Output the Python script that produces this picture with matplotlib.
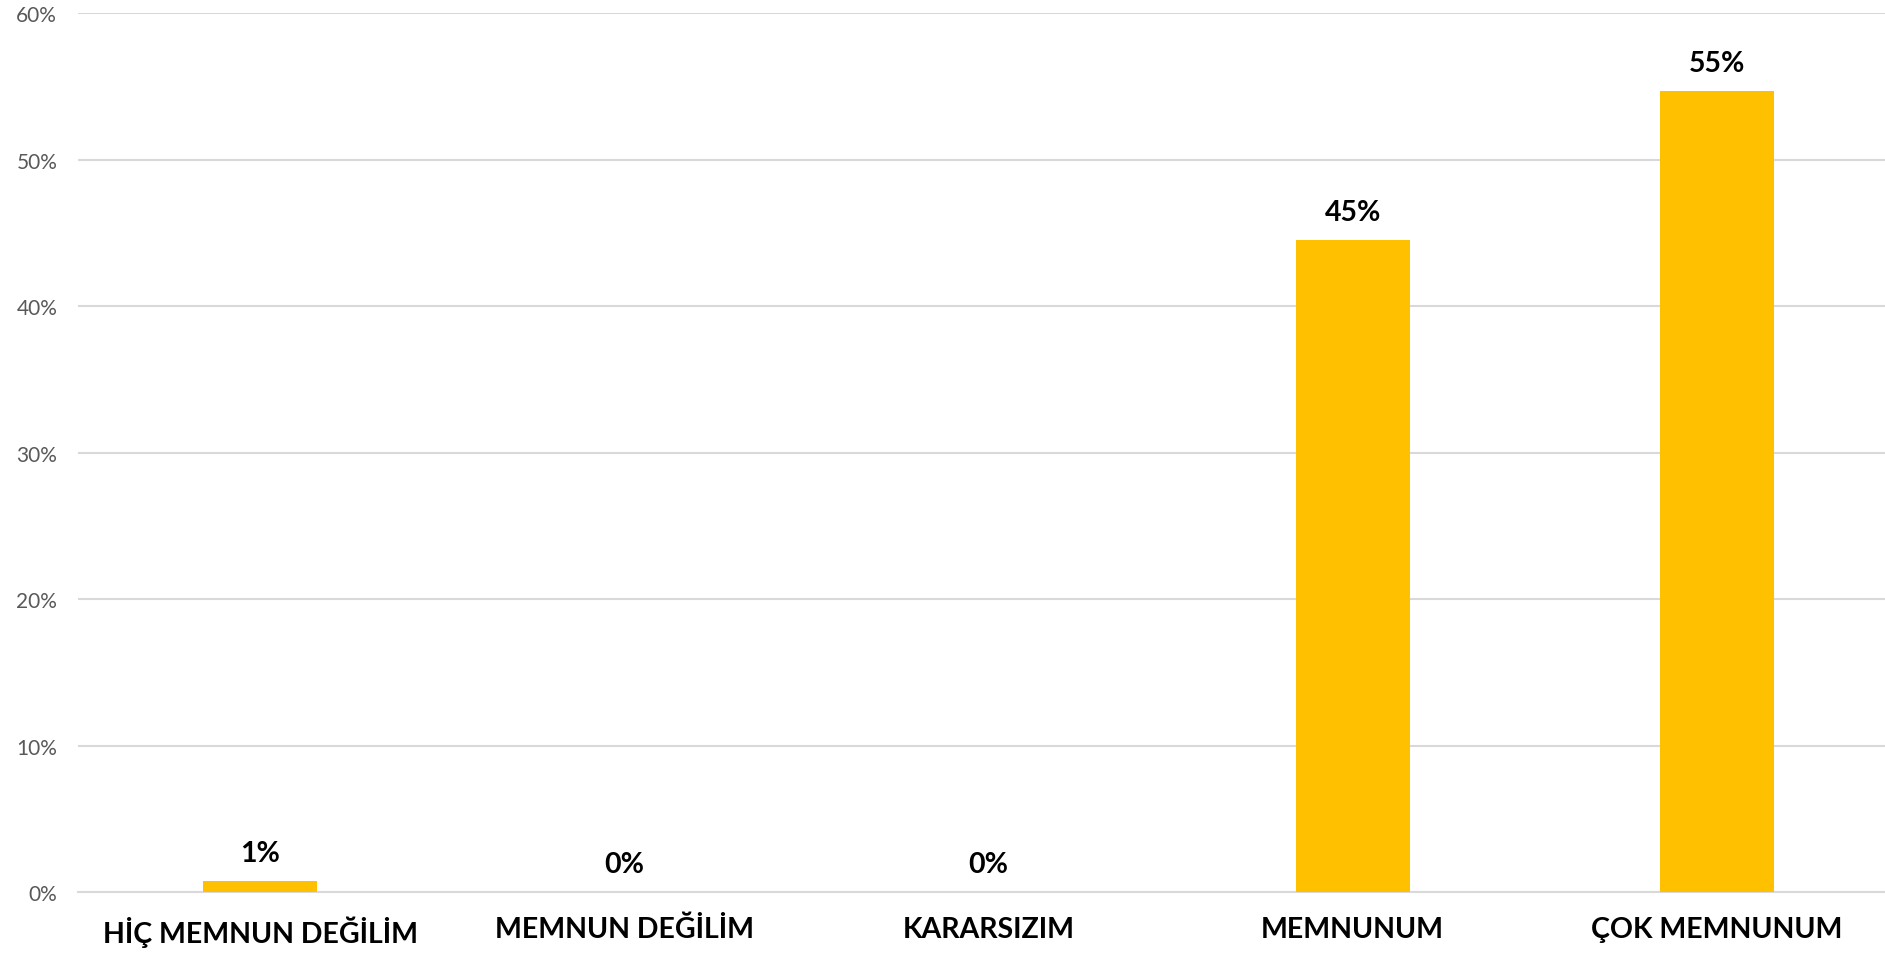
import matplotlib.pyplot as plt
from matplotlib.ticker import PercentFormatter

# Data
categories = ["HİÇ MEMNUN DEĞİLİM", "MEMNUN DEĞİLİM", "KARARSIZIM", "MEMNUNUM", "ÇOK MEMNUNUM"]
values = [0.0075, 0.0, 0.0, 0.445, 0.547]
labels = ["1%", "0%", "0%", "45%", "55%"]
yticks = [0, 0.1, 0.2, 0.3, 0.4, 0.5, 0.6]

plt.rcParams["font.family"] = ["Lato", "DejaVu Sans"]

fig = plt.figure(figsize=(18.85, 9.54), dpi=100)
ax = fig.add_axes([0.0414, 0.064, 0.966, 0.921])

x = range(len(categories))
ax.bar(x, values, width=0.313, color="#FFC000", zorder=3)

for xi, v, lab in zip(x, values, labels):
    ax.annotate(lab, (xi, v), xytext=(0, 11), textcoords="offset points",
                ha="center", va="bottom", fontsize=20.5, fontweight="bold", color="black")

ax.set_xlim(-0.5, len(categories) - 0.5)
ax.set_ylim(0, 0.6)
ax.set_yticks(yticks)
ax.yaxis.set_major_formatter(PercentFormatter(1.0, decimals=0))
ax.set_xticks(list(x))
ax.set_xticklabels(categories, fontsize=20.5, fontweight="bold")

ax.grid(axis="y", color="#d9d9d9", linewidth=1.5, zorder=0)
for side in ["top", "right", "left"]:
    ax.spines[side].set_visible(False)
ax.spines["bottom"].set_color("#d9d9d9")
ax.spines["bottom"].set_linewidth(1.5)

ax.tick_params(axis="y", length=0, labelsize=15, labelcolor="#595959", pad=15)
ax.tick_params(axis="x", length=0, pad=17)

plt.savefig("out.png", dpi=100)
